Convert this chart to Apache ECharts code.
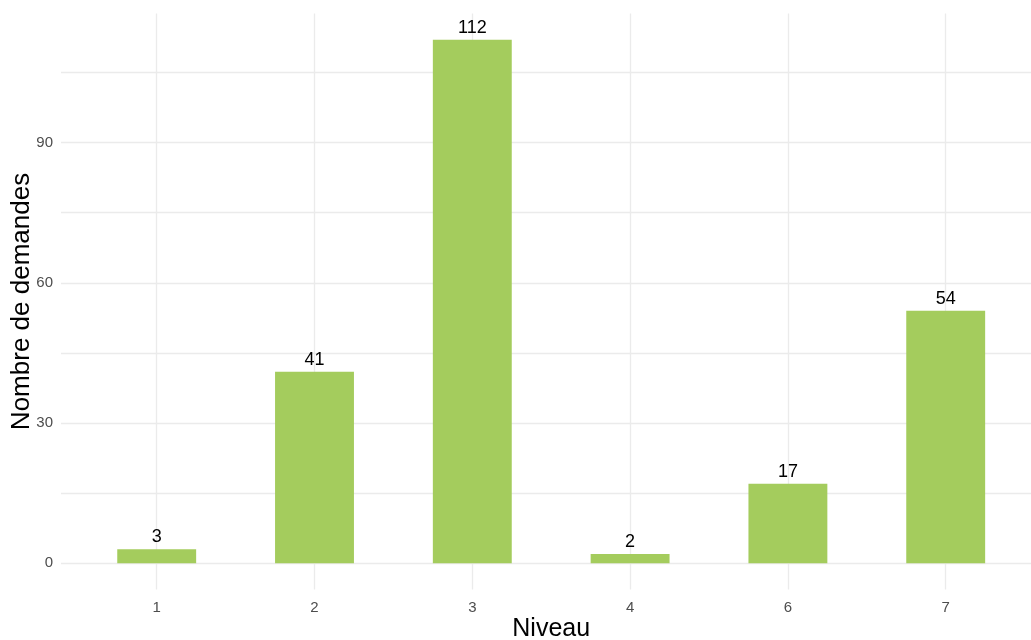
<!DOCTYPE html>
<html>
<head>
<meta charset="utf-8">
<script src="https://cdn.jsdelivr.net/npm/echarts@6/dist/echarts.min.js"></script>
<style>
html,body{margin:0;padding:0;background:#fff;}
#chart{width:1031px;height:640px;}
</style>
</head>
<body>
<div id="chart"></div>
<script>
const categories = ['1', '2', '3', '4', '6', '7'];
const values = [3, 41, 112, 2, 17, 54];
const yTickStep = 15;
const yLabelStep = 30;
const yMin = -5.6;
const yMax = 117.6;
const xTitle = 'Niveau';
const yTitle = 'Nombre de demandes';

const FONT = '"Liberation Sans", Arial, sans-serif';
const GRID_COLOR = '#EBEBEB';

const chart = echarts.init(document.getElementById('chart'), null, {renderer: 'canvas'});
chart.setOption({
  animation: false,
  backgroundColor: '#ffffff',
  textStyle: {fontFamily: FONT},
  grid: [
    {left: 61, right: -12, top: 13.5, bottom: 76.7, containLabel: false, outerBoundsMode: 'none'},
    {left: 77.8, right: 6.4, top: 13.5, bottom: 50.5, containLabel: false, outerBoundsMode: 'none'}
  ],
  xAxis: [
    {
      gridIndex: 0, type: 'category', data: categories, show: false
    },
    {
      gridIndex: 1, type: 'category', data: categories,
      axisLine: {show: false}, axisTick: {show: false},
      axisLabel: {color: '#4D4D4D', fontSize: 15, margin: 11, fontFamily: FONT},
      splitLine: {show: true, alignWithLabel: true, lineStyle: {color: GRID_COLOR, width: 1.3}},
      name: xTitle, nameLocation: 'middle', nameGap: 27, nameMoveOverlap: false,
      nameTextStyle: {color: '#000', fontSize: 25, fontFamily: FONT, verticalAlign: 'top'}
    }
  ],
  yAxis: [
    {
      gridIndex: 0, type: 'value', min: 0, max: yMax, interval: yTickStep,
      axisLine: {show: false}, axisTick: {show: false},
      axisLabel: {
        color: '#4D4D4D', fontSize: 15, margin: 8, fontFamily: FONT,
        showMaxLabel: false,
        formatter: v => (Math.abs(v % yLabelStep) < 1e-9 ? String(v) : '')
      },
      splitLine: {show: true, showMaxLine: false, lineStyle: {color: GRID_COLOR, width: 1.3}}
    },
    {
      gridIndex: 1, type: 'value', min: yMin, max: yMax,
      axisLine: {show: false}, axisTick: {show: false},
      axisLabel: {show: false}, splitLine: {show: false},
      name: yTitle, nameLocation: 'middle', nameGap: 43, nameMoveOverlap: false,
      nameTextStyle: {color: '#000', fontSize: 26, fontFamily: FONT}
    }
  ],
  series: [
    {
      type: 'bar', xAxisIndex: 1, yAxisIndex: 1,
      data: values, barWidth: '50%',
      itemStyle: {color: '#A4CC5D'},
      label: {show: true, position: 'top', distance: 3, color: '#000', fontSize: 18, fontFamily: FONT}
    }
  ]
});
</script>
</body>
</html>
